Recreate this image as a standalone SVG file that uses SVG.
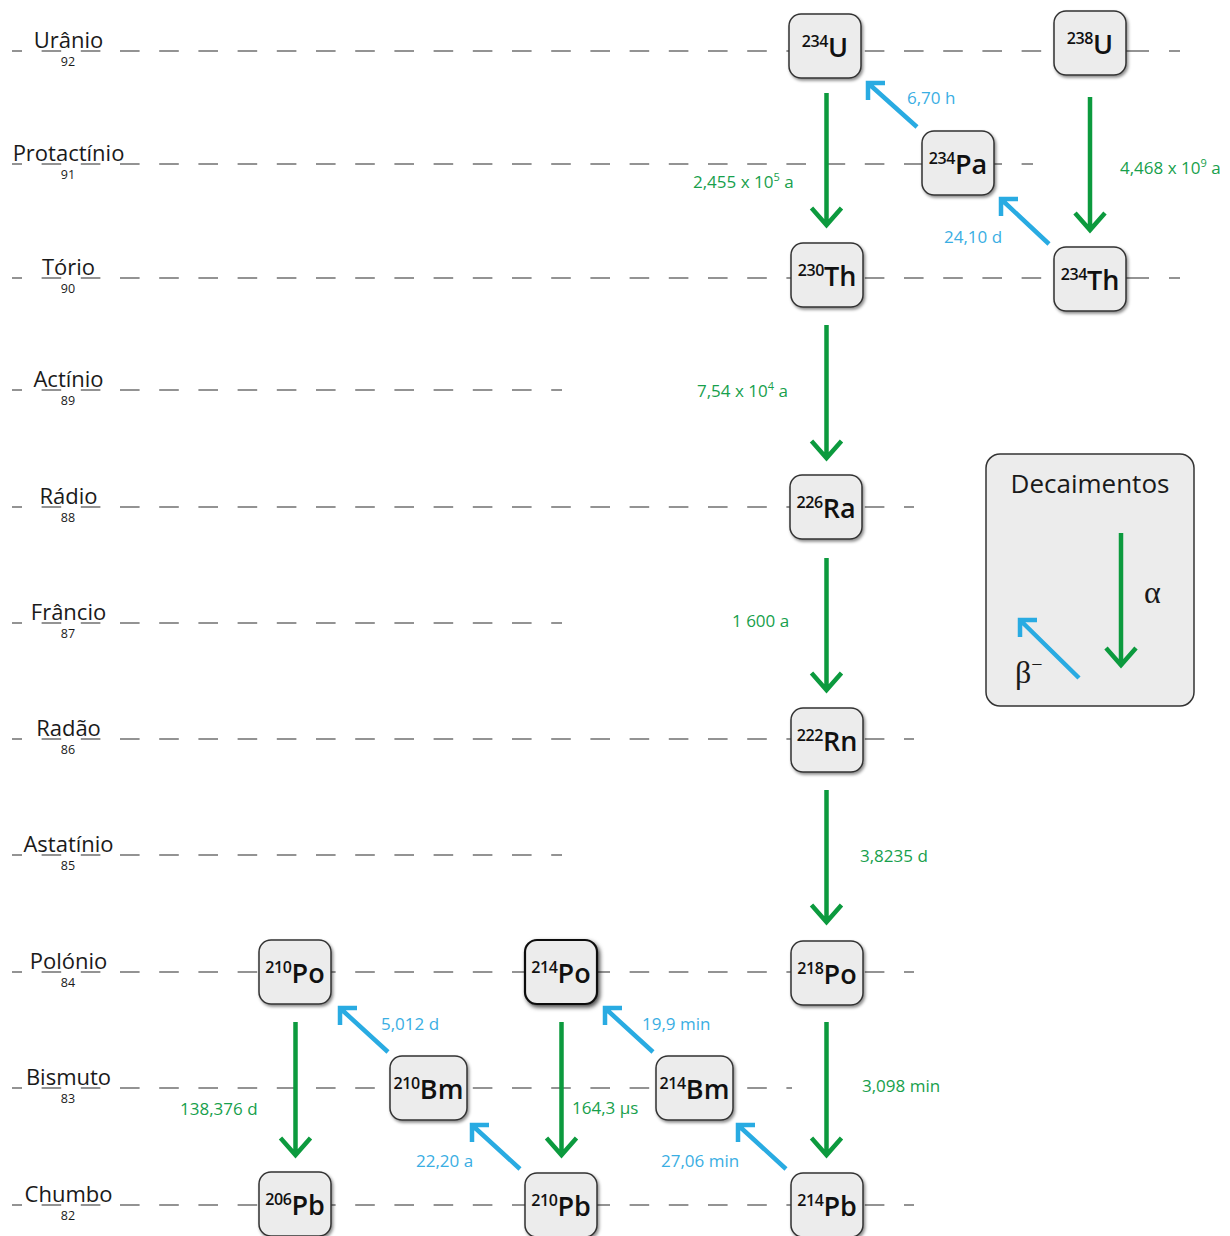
<svg xmlns="http://www.w3.org/2000/svg" width="1230" height="1236" viewBox="0 0 1230 1236">
<defs>
<filter id="shadow" x="-20%" y="-20%" width="150%" height="150%">
<feDropShadow dx="1.5" dy="2" stdDeviation="1.5" flood-color="#000" flood-opacity="0.45"/>
</filter>
<filter id="shadow2" x="-20%" y="-20%" width="150%" height="150%">
<feDropShadow dx="2" dy="2.5" stdDeviation="2" flood-color="#000" flood-opacity="0.7"/>
</filter>
<style>
.row{stroke:#707070;stroke-width:1.5;stroke-dasharray:19.6 19.6;stroke-dashoffset:9.6;fill:none}
.tail{stroke:#707070;stroke-width:1.5;stroke-dasharray:23 20;fill:none}
.lbl{font-family:"Open Sans","Liberation Sans",sans-serif;font-size:22px;fill:#1a1a1a;text-anchor:middle}
.z{font-family:"Open Sans","Liberation Sans",sans-serif;font-size:12.5px;fill:#1a1a1a;text-anchor:middle}
.box{fill:#ececec;stroke:#333;stroke-width:1.5;filter:url(#shadow)}
.box2{fill:#ececec;stroke:#111;stroke-width:2.2;filter:url(#shadow2)}
.nt{font-family:"Open Sans","Liberation Sans",sans-serif;font-weight:600;fill:#111;text-anchor:middle}
.sup{font-size:16px;letter-spacing:-0.4px}
.el{font-size:27px}
.alpha{stroke:#0c9a3e;stroke-width:4.5;fill:none;stroke-linejoin:miter}
.beta{stroke:#29abe2;stroke-width:4.5;fill:none;stroke-linejoin:miter}
.hl{font-family:"Open Sans","Liberation Sans",sans-serif;font-size:17px}
.ga{fill:#17a04c}
.gb{fill:#3aaee3}
.greek{font-family:"Liberation Serif","DejaVu Serif",serif;font-size:32px;fill:#1a1a1a}
</style>
</defs>
<rect width="1230" height="1236" fill="#fff"/>

<g id="rows">
<line class="row" x1="12" y1="51" x2="1126" y2="51"/>
<line class="tail" x1="1126" y1="51" x2="1180" y2="51"/>
<line class="row" x1="12" y1="164" x2="1033" y2="164"/>
<line class="row" x1="12" y1="278" x2="1126" y2="278"/>
<line class="tail" x1="1126" y1="278" x2="1180" y2="278"/>
<line class="row" x1="12" y1="390" x2="562" y2="390"/>
<line class="row" x1="12" y1="507" x2="914" y2="507"/>
<line class="row" x1="12" y1="623" x2="562" y2="623"/>
<line class="row" x1="12" y1="739" x2="914" y2="739"/>
<line class="row" x1="12" y1="855" x2="562" y2="855"/>
<line class="row" x1="12" y1="972" x2="914" y2="972"/>
<line class="row" x1="12" y1="1088" x2="792" y2="1088"/>
<line class="row" x1="12" y1="1205" x2="914" y2="1205"/>
</g>

<g id="element-labels">
<text class="lbl" x="68.5" y="48">Urânio</text><text class="z" x="68" y="66">92</text>
<text class="lbl" x="68.5" y="161">Protactínio</text><text class="z" x="68" y="179">91</text>
<text class="lbl" x="68.5" y="275">Tório</text><text class="z" x="68" y="293">90</text>
<text class="lbl" x="68.5" y="387">Actínio</text><text class="z" x="68" y="405">89</text>
<text class="lbl" x="68.5" y="504">Rádio</text><text class="z" x="68" y="522">88</text>
<text class="lbl" x="68.5" y="620">Frâncio</text><text class="z" x="68" y="638">87</text>
<text class="lbl" x="68.5" y="736">Radão</text><text class="z" x="68" y="754">86</text>
<text class="lbl" x="68.5" y="852">Astatínio</text><text class="z" x="68" y="870">85</text>
<text class="lbl" x="68.5" y="969">Polónio</text><text class="z" x="68" y="987">84</text>
<text class="lbl" x="68.5" y="1085">Bismuto</text><text class="z" x="68" y="1103">83</text>
<text class="lbl" x="68.5" y="1202">Chumbo</text><text class="z" x="68" y="1220">82</text>
</g>

<g id="connectors">
<path class="alpha" d="M826.5 93 V223 M811.5 208 L826.5 225 L841.5 208"/>
<path class="alpha" d="M1090 97 V228 M1075 213 L1090 230 L1105 213"/>
<path class="alpha" d="M826.5 325 V456 M811.5 441 L826.5 458 L841.5 441"/>
<path class="alpha" d="M826.5 558 V688 M811.5 673 L826.5 690 L841.5 673"/>
<path class="alpha" d="M826.5 790 V920 M811.5 905 L826.5 922 L841.5 905"/>
<path class="alpha" d="M826.5 1022 V1153 M811.5 1138 L826.5 1155 L841.5 1138"/>
<path class="alpha" d="M295.5 1022 V1153 M280.5 1138 L295.5 1155 L310.5 1138"/>
<path class="alpha" d="M561.5 1022 V1153 M546.5 1138 L561.5 1155 L576.5 1138"/>

<path class="beta" d="M917 127 L869 84 M885 83 L868 83 L868 100"/>
<path class="beta" d="M1049 244 L1002 200 M1018 199 L1001 199 L1001 216"/>
<path class="beta" d="M388 1052 L341 1009 M357 1008 L340 1008 L340 1025"/>
<path class="beta" d="M520 1169 L473 1126 M489 1125 L472 1125 L472 1142"/>
<path class="beta" d="M653 1052 L606 1009 M622 1008 L605 1008 L605 1025"/>
<path class="beta" d="M786 1169 L739 1126 M755 1125 L738 1125 L738 1142"/>

<text class="hl gb" x="907" y="104">6,70 h</text>
<text class="hl ga" x="693" y="188">2,455 x 10<tspan font-size="11" dy="-7">5</tspan><tspan dy="7"> a</tspan></text>
<text class="hl ga" x="1120" y="174">4,468 x 10<tspan font-size="11" dy="-7">9</tspan><tspan dy="7"> a</tspan></text>
<text class="hl gb" x="944" y="243">24,10 d</text>
<text class="hl ga" x="697" y="397">7,54 x 10<tspan font-size="11" dy="-7">4</tspan><tspan dy="7"> a</tspan></text>
<text class="hl ga" x="732" y="627">1 600 a</text>
<text class="hl ga" x="860" y="862">3,8235 d</text>
<text class="hl gb" x="381" y="1030">5,012 d</text>
<text class="hl gb" x="642" y="1030">19,9 min</text>
<text class="hl ga" x="180" y="1115">138,376 d</text>
<text class="hl ga" x="572" y="1114">164,3 µs</text>
<text class="hl ga" x="862" y="1092">3,098 min</text>
<text class="hl gb" x="416" y="1167">22,20 a</text>
<text class="hl gb" x="661" y="1167">27,06 min</text>
</g>

<g id="n234U"><rect class="box" x="789" y="14" width="72" height="64" rx="12"/><text class="nt" x="825" y="57"><tspan class="sup" dy="-10">234</tspan><tspan class="el" dy="10">U</tspan></text></g>
<g id="n238U"><rect class="box" x="1054" y="11" width="72" height="64" rx="12"/><text class="nt" x="1090" y="54"><tspan class="sup" dy="-10">238</tspan><tspan class="el" dy="10">U</tspan></text></g>
<g id="n234Pa"><rect class="box" x="922" y="131" width="72" height="64" rx="12"/><text class="nt" x="958" y="174"><tspan class="sup" dy="-10">234</tspan><tspan class="el" dy="10">Pa</tspan></text></g>
<g id="n230Th"><rect class="box" x="791" y="243" width="72" height="64" rx="12"/><text class="nt" x="827" y="286"><tspan class="sup" dy="-10">230</tspan><tspan class="el" dy="10">Th</tspan></text></g>
<g id="n234Th"><rect class="box" x="1054" y="247" width="72" height="64" rx="12"/><text class="nt" x="1090" y="290"><tspan class="sup" dy="-10">234</tspan><tspan class="el" dy="10">Th</tspan></text></g>
<g id="n226Ra"><rect class="box" x="790" y="475" width="72" height="64" rx="12"/><text class="nt" x="826" y="518"><tspan class="sup" dy="-10">226</tspan><tspan class="el" dy="10">Ra</tspan></text></g>
<g id="n222Rn"><rect class="box" x="791" y="708" width="72" height="64" rx="12"/><text class="nt" x="827" y="751"><tspan class="sup" dy="-10">222</tspan><tspan class="el" dy="10">Rn</tspan></text></g>
<g id="n218Po"><rect class="box" x="791" y="941" width="72" height="64" rx="12"/><text class="nt" x="827" y="984"><tspan class="sup" dy="-10">218</tspan><tspan class="el" dy="10">Po</tspan></text></g>
<g id="n210Po"><rect class="box" x="259" y="940" width="72" height="64" rx="12"/><text class="nt" x="295" y="983"><tspan class="sup" dy="-10">210</tspan><tspan class="el" dy="10">Po</tspan></text></g>
<g id="n214Po"><rect class="box2" x="525" y="940" width="72" height="64" rx="12"/><text class="nt" x="561" y="983"><tspan class="sup" dy="-10">214</tspan><tspan class="el" dy="10">Po</tspan></text></g>
<g id="n210Bm"><rect class="box" x="390" y="1056" width="77" height="64" rx="12"/><text class="nt" x="428.5" y="1099"><tspan class="sup" dy="-10">210</tspan><tspan class="el" dy="10">Bm</tspan></text></g>
<g id="n214Bm"><rect class="box" x="656" y="1056" width="77" height="64" rx="12"/><text class="nt" x="694.5" y="1099"><tspan class="sup" dy="-10">214</tspan><tspan class="el" dy="10">Bm</tspan></text></g>
<g id="n206Pb"><rect class="box" x="259" y="1172" width="72" height="64" rx="12"/><text class="nt" x="295" y="1215"><tspan class="sup" dy="-10">206</tspan><tspan class="el" dy="10">Pb</tspan></text></g>
<g id="n210Pb"><rect class="box" x="525" y="1173" width="72" height="64" rx="12"/><text class="nt" x="561" y="1216"><tspan class="sup" dy="-10">210</tspan><tspan class="el" dy="10">Pb</tspan></text></g>
<g id="n214Pb"><rect class="box" x="791" y="1173" width="72" height="64" rx="12"/><text class="nt" x="827" y="1216"><tspan class="sup" dy="-10">214</tspan><tspan class="el" dy="10">Pb</tspan></text></g>

<g id="legend">
<rect x="986" y="454" width="208" height="252" rx="14" fill="#ececec" stroke="#333" stroke-width="1.5"/>
<text x="1090" y="493" font-family="'Open Sans','Liberation Sans',sans-serif" font-size="26" fill="#1a1a1a" text-anchor="middle">Decaimentos</text>
<path class="alpha" d="M1121 533 V663 M1106 648 L1121 665 L1136 648"/>
<text class="greek" x="1144" y="603">α</text>
<path class="beta" d="M1079 678 L1021 621 M1037 620 L1020 620 L1020 637"/>
<text class="greek" x="1015" y="683">β<tspan font-size="20" dy="-12">−</tspan></text>
</g>
</svg>
